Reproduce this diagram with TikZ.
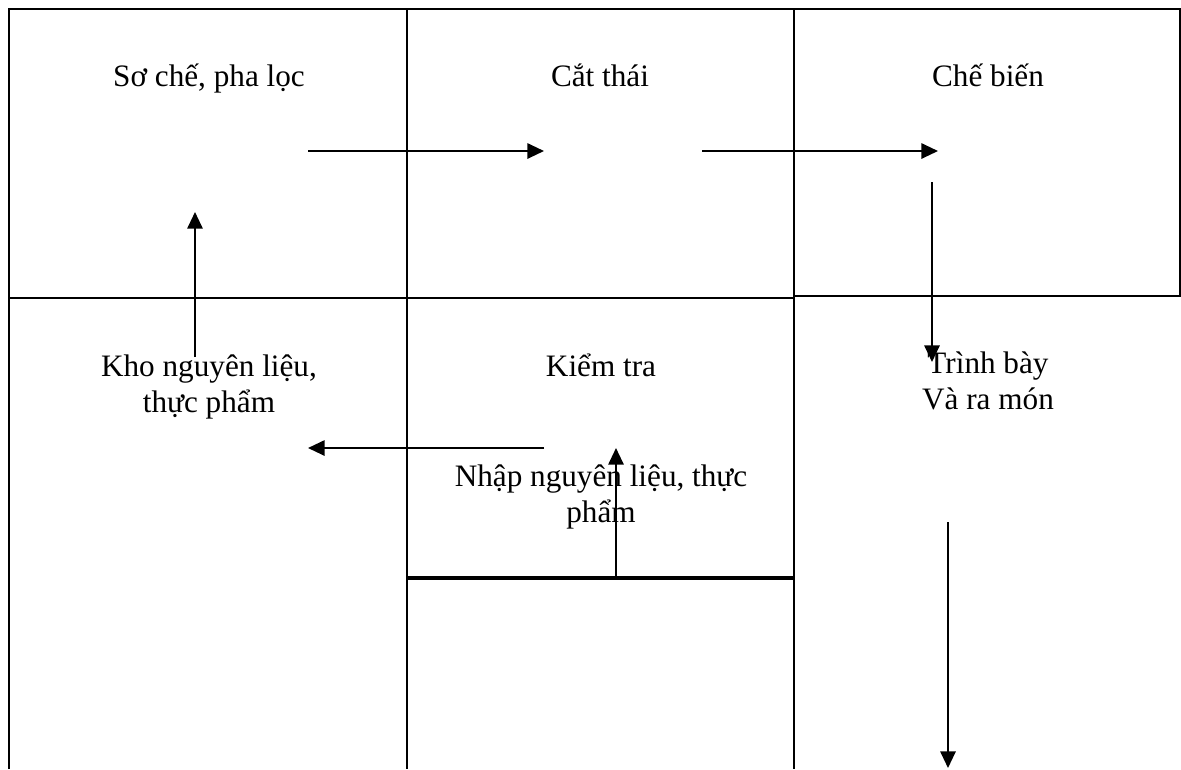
\documentclass[tikz,border=0pt]{standalone}
\usepackage{fontspec}
\setmainfont{Liberation Serif}
\usetikzlibrary{arrows.meta}
\begin{document}
\begin{tikzpicture}[x=0.75pt,y=-0.75pt,
  frame/.style={line width=1.6pt},
  thickframe/.style={line width=2.4pt},
  flow/.style={line width=1.5pt,-{Triangle[length=12.5pt,width=11.5pt]}},
  lbl/.style={font=\fontsize{23.4}{26.8}\selectfont, inner sep=0pt, anchor=base, align=center}]
\useasboundingbox (0,0) rectangle (1181,769);
% frames
\draw[frame] (9,769) -- (9,9) -- (1180,9) -- (1180,296) -- (794,296);
\draw[frame] (9,298) -- (794,298);
\draw[frame] (407,9) -- (407,769);
\draw[frame] (794,9) -- (794,769);
\draw[thickframe] (407,578) -- (794,578);
% labels (base anchor = baseline of the last line)
\node[lbl] (so) at (209,86) {Sơ chế, pha lọc};
\node[lbl] (cat) at (600,86) {Cắt thái};
\node[lbl] (che) at (988,86) {Chế biến};
\node[lbl] (kho) at (209,412) {Kho nguyên liệu,\\thực phẩm};
\node[lbl] (kiem) at (601,376) {Kiểm tra};
\node[lbl] (nhap) at (601,522) {Nhập nguyên liệu, thực\\phẩm};
\node[lbl] (trinh) at (988,409) {Trình bày\\Và ra món};
% arrow ends
\coordinate (a1s) at (308,151); \coordinate (a1e) at (544,151);
\coordinate (a2s) at (702,151); \coordinate (a2e) at (938,151);
\coordinate (a3s) at (932,182); \coordinate (a3e) at (932,362);
\coordinate (a4s) at (195,357); \coordinate (a4e) at (195,212);
\coordinate (a5s) at (544,448); \coordinate (a5e) at (308,448);
\coordinate (a6s) at (616,578); \coordinate (a6e) at (616,448);
\coordinate (a7s) at (948,522); \coordinate (a7e) at (948,768);
\draw[flow] (a1s) -- (a1e);
\draw[flow] (a2s) -- (a2e);
\draw[flow] (a3s) -- (a3e);
\draw[flow] (a4s) -- (a4e);
\draw[flow] (a5s) -- (a5e);
\draw[flow] (a6s) -- (a6e);
\draw[flow] (a7s) -- (a7e);
\end{tikzpicture}
\end{document}
